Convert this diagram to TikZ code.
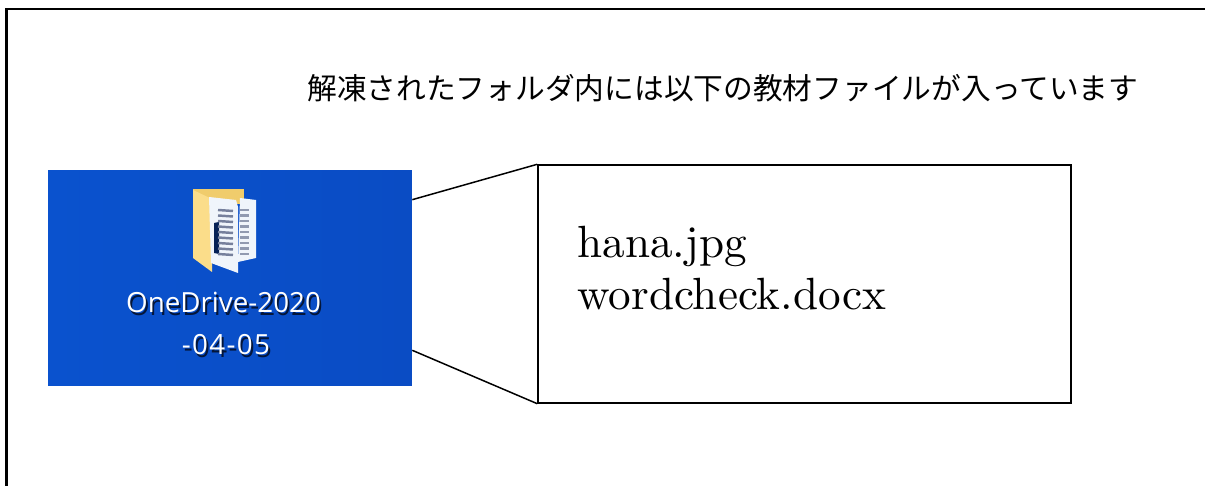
\documentclass[tikz,border=0pt]{standalone}
\usepackage{fontspec}
\usepackage{tikz}
\usetikzlibrary{calc}
\newfontfamily\jpfont{Noto Sans CJK JP}
\newfontfamily\iconfont{Open Sans}
\newfontfamily\filefont{lmroman10-regular.otf}
\newcommand{\iconlabel}[1]{\rlap{\kern1.1pt\raisebox{-1.3pt}{\color{shadowblue}#1}}#1}
\definecolor{desktop}{HTML}{0A4CC4}
\definecolor{desktoplight}{HTML}{0A52CE}
\definecolor{shadowblue}{HTML}{04163A}
\definecolor{foldertab}{HTML}{F0CC6C}
\definecolor{folderfront}{HTML}{FBDD8A}
\definecolor{pagewhite}{HTML}{F0F5FB}
\definecolor{pageline}{HTML}{76809C}
\tikzset{
  framing/.style={line width=1.4pt},
  thinline/.style={line width=0.85pt},
  filename/.style={anchor=base west,inner sep=0pt,font=\filefont\fontsize{25.7}{30}\selectfont},
  iconname/.style={anchor=base,inner sep=0pt,text=white,font=\iconfont\fontsize{15.8}{18}\selectfont}
}
\begin{document}
\begin{tikzpicture}[x=0.02cm,y=-0.02cm]
        \useasboundingbox (0,0) rectangle (1205,486);
        %frame
        \draw[framing] (6.5,486) -- (6.5,9) -- (1205,9);
        %title
        \node[anchor=base west,inner sep=0pt,font=\jpfont\fontsize{16.92}{20}\selectfont] (title) at (307,100) {解凍されたフォルダ内には以下の教材ファイルが入っています};
        %icon
        \node[minimum width=7.28cm,minimum height=4.32cm,inner sep=0pt,left color=desktoplight,right color=desktop] (icon) at (230,278) {};
        \fill[foldertab] (193,189) -- (244,189) -- (244,204) -- (193,204) -- cycle;
        \fill[pagewhite] (240,198) -- (256,200) -- (256,258) -- (238,262) -- cycle;
        \fill[folderfront] (193,190) -- (212,199) -- (212,272) -- (193,258) -- cycle;
        \fill[pagewhite] (209,197) -- (236,200) -- (238,207) -- (238,273) -- (211,263) -- cycle;
        \fill[shadowblue!80!desktop] (214,223) -- (219,222) -- (219,254) -- (214,253) -- cycle;
        \foreach \y in {210,215.5,...,258} {
            \draw[pageline,line width=1.4pt] (218,\y) -- (233,\y+1);
            \draw[pageline!80,line width=1.4pt] (240,\y) -- (249,\y);
        }
        \node[iconname] (iconone) at (223.5,313) {\iconlabel{OneDrive-2020}};
        \node[iconname] (icontwo) at (226,355) {\addfontfeature{LetterSpace=4.8}\iconlabel{-04-05}};
        %callout
        \node[draw,thinline,minimum width=10.66cm,minimum height=4.76cm,inner sep=0pt] (files) at (804.5,284) {};
        \coordinate (upperfoot) at ($(icon.north east)+(0,30)$);
        \coordinate (lowerfoot) at ($(icon.south east)+(0,-36)$);
        \draw[thinline] (upperfoot) -- (files.north west);
        \draw[thinline] (lowerfoot) -- (files.south west);
        \node[filename] (hana) at (577,258) {hana.jpg};
        \node[filename] (wordcheck) at (577,310) {wordcheck.docx};
\end{tikzpicture}
\end{document}
